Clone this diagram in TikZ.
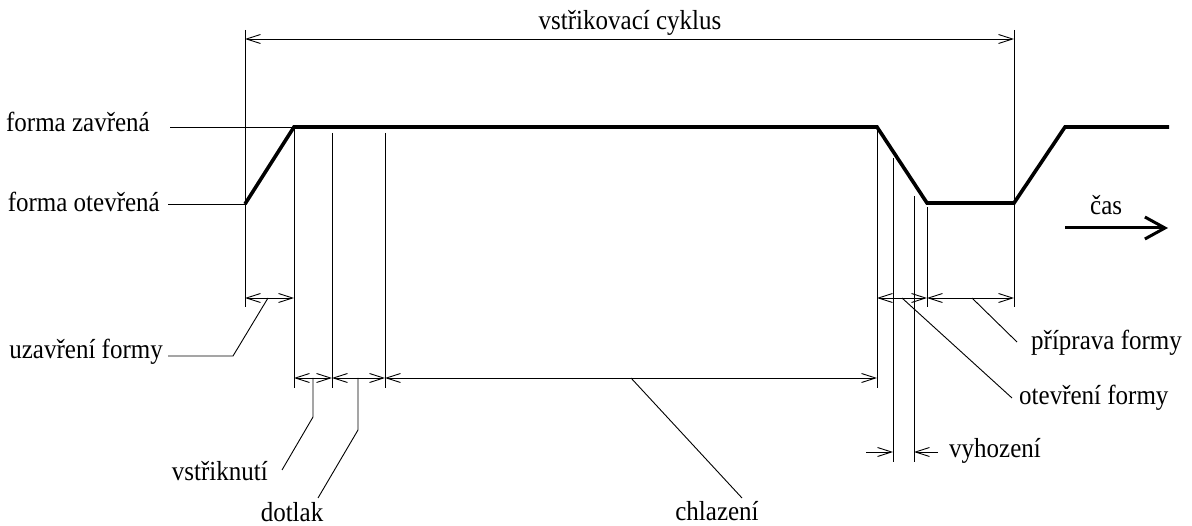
\documentclass[tikz,border=0pt]{standalone}
\usepackage{fontspec}
\setmainfont{Liberation Serif}
\usetikzlibrary{arrows.meta}
\newcommand{\tallt}[1]{\scalebox{1}[1.1]{#1}}
\begin{document}
\begin{tikzpicture}[x=1pt,y=-1pt,
  thin line/.style={line width=0.9pt,black},
  wave/.style={line width=3.6pt,line join=miter,black},
  dimline/.style={thin line,{Straight Barb[length=14pt,width=9pt]}-{Straight Barb[length=14pt,width=9pt]}},
  halfdim/.style={thin line,-{Straight Barb[length=14pt,width=9pt]}},
  lbl/.style={inner sep=0pt,font=\fontsize{25}{28}\selectfont}]
\useasboundingbox (0,0) rectangle (1192,526);
% waveform points
\coordinate (A) at (245,204);
\coordinate (B) at (294,127);
\coordinate (C) at (877,127);
\coordinate (D) at (927,203);
\coordinate (E) at (1014,203);
\coordinate (F) at (1065,127);
\coordinate (G) at (1169,127);
% extension lines
\coordinate (e1t) at (245,30);   \coordinate (e1b) at (245,307);
\coordinate (e2t) at (1014,30);  \coordinate (e2b) at (1014,307);
\coordinate (e3b) at (294,388);
\coordinate (e4t) at (332,133);  \coordinate (e4b) at (332,388);
\coordinate (e5t) at (385,133);  \coordinate (e5b) at (385,388);
\coordinate (e6b) at (877,388);
\coordinate (e7t) at (893,158);  \coordinate (e7b) at (893,462);
\coordinate (e8t) at (914,196);  \coordinate (e8b) at (914,462);
\coordinate (e9t) at (927,207);  \coordinate (e9b) at (927,307);
\draw[thin line] (e1t) -- (e1b);
\draw[thin line] (e2t) -- (e2b);
\draw[thin line] (B) -- (e3b);
\draw[thin line] (e4t) -- (e4b);
\draw[thin line] (e5t) -- (e5b);
\draw[thin line] (C) -- (e6b);
\draw[thin line] (e7t) -- (e7b);
\draw[thin line] (e8t) -- (e8b);
\draw[thin line] (e9t) -- (e9b);
% level labels
\node[lbl,anchor=base east] (zav) at (150,132) {\tallt{forma zavřená}};
\node[lbl,anchor=base east] (ote) at (160,212) {\tallt{forma otevřená}};
\coordinate (zavl) at (170,127);
\coordinate (otel) at (168,204);
\draw[thin line] (zavl) -- (B);
\draw[thin line] (otel) -- (A);
% waveform
\draw[wave] (A) -- (B) -- (C) -- (D) -- (E) -- (F) -- (G);
% top dimension
\coordinate (t1) at (245,39); \coordinate (t2) at (1014,39);
\draw[dimline] (t1) -- (t2);
\node[lbl,anchor=base] (cyk) at (630,30) {\tallt{vstřikovací cyklus}};
% dimension rows
\coordinate (u1) at (245,298); \coordinate (u2) at (294,298);
\draw[dimline] (u1) -- (u2);
\coordinate (r1) at (294,378); \coordinate (r2) at (332,378);
\coordinate (r3) at (385,378); \coordinate (r4) at (877,378);
\draw[dimline] (r1) -- (r2);
\draw[dimline] (r2) -- (r3);
\draw[dimline] (r3) -- (r4);
\coordinate (p1) at (877,298); \coordinate (p2) at (927,298); \coordinate (p3) at (1014,298);
\draw[dimline] (p1) -- (p2);
\draw[dimline] (p2) -- (p3);
\coordinate (v1) at (866,452); \coordinate (v2) at (893,452);
\coordinate (v3) at (938,452); \coordinate (v4) at (914,452);
\draw[halfdim] (v1) -- (v2);
\draw[halfdim] (v3) -- (v4);
% labels with leaders
\node[lbl,anchor=base east] (uza) at (163,359) {\tallt{uzavření formy}};
\coordinate (uz1) at (268,298); \coordinate (uz2) at (233,356); \coordinate (uz3) at (168,356);
\draw[thin line] (uz1) -- (uz2) -- (uz3);
\node[lbl,anchor=base east] (vst) at (268,481) {\tallt{vstřiknutí}};
\coordinate (vs1) at (313,378); \coordinate (vs2) at (313,417); \coordinate (vs3) at (282,470);
\draw[thin line] (vs1) -- (vs2) -- (vs3);
\node[lbl,anchor=base] (dot) at (292,521) {\tallt{dotlak}};
\coordinate (do1) at (358,378); \coordinate (do2) at (358,430); \coordinate (do3) at (318,498);
\draw[thin line] (do1) -- (do2) -- (do3);
\node[lbl,anchor=base] (chl) at (717,520) {\tallt{chlazení}};
\coordinate (ch1) at (631,378); \coordinate (ch2) at (742,498);
\draw[thin line] (ch1) -- (ch2);
\node[lbl,anchor=base west] (pri) at (1031,350) {\tallt{příprava formy}};
\coordinate (pr1) at (972,298); \coordinate (pr2) at (1017,342);
\draw[thin line] (pr1) -- (pr2);
\node[lbl,anchor=base west] (otf) at (1019,405) {\tallt{otevření formy}};
\coordinate (of1) at (902,298); \coordinate (of2) at (1012,398);
\draw[thin line] (of1) -- (of2);
\node[lbl,anchor=base west] (vyh) at (949,458) {\tallt{vyhození}};
% time arrow
\node[lbl,anchor=base west] (cas) at (1090,215) {\tallt{čas}};
\coordinate (c1) at (1065,228); \coordinate (c2) at (1168,228);
\draw[line width=3pt,-{Straight Barb[length=20pt,width=22pt]}] (c1) -- (c2);
\end{tikzpicture}
\end{document}
